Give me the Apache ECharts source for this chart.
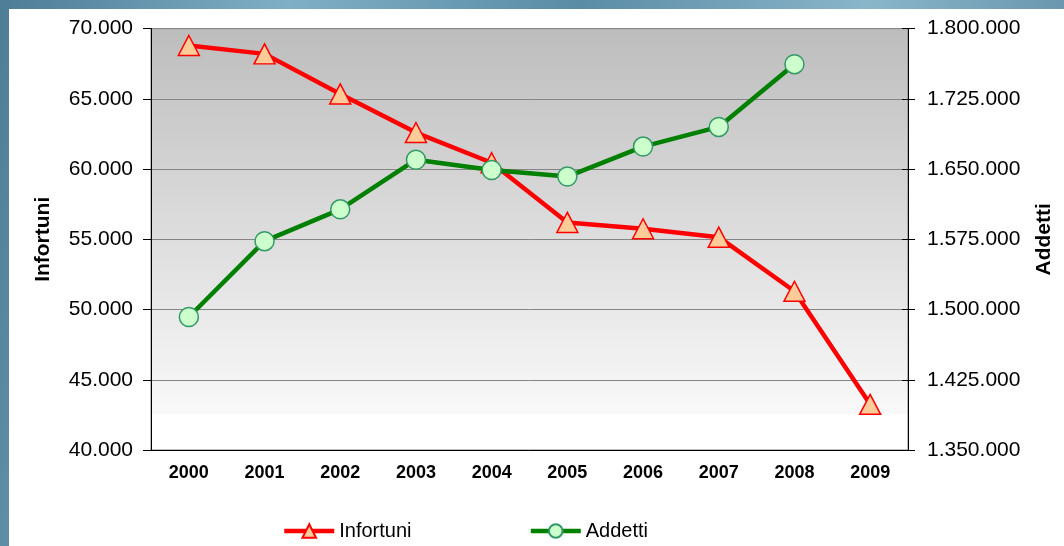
<!DOCTYPE html>
<html>
<head>
<meta charset="utf-8">
<script src="https://cdn.jsdelivr.net/npm/echarts@6/dist/echarts.min.js"></script>
<style>
  html, body { margin: 0; padding: 0; }
  body {
    width: 1064px; height: 546px; overflow: hidden; position: relative;
    background: linear-gradient(100deg, #4d7d97 0%, #7eafc6 25%, #5b8ca6 50%, #8ab6ca 75%, #5a88a1 100%);
  }
  #panel { position: absolute; left: 9px; top: 9px; right: 0; bottom: 0; background: #ffffff; }
  #chart { position: absolute; left: 0; top: 0; width: 1064px; height: 546px; }
</style>
</head>
<body>
<div id="panel"></div>
<div id="chart"></div>
<script>
/* global echarts */
const years = ['2000', '2001', '2002', '2003', '2004', '2005', '2006', '2007', '2008', '2009'];
const infortuni = [68800, 68200, 65350, 62600, 60450, 56200, 55750, 55150, 51300, 43250];
const addetti = [1492000, 1573000, 1607000, 1660000, 1649000, 1642000, 1674000, 1695000, 1762000];

const FONT = '"Liberation Sans", Arial, sans-serif';

function fmt_thousands(v) {
    return String(v).replace(/\B(?=(\d{3})+(?!\d))/g, '.');
}

const chart = echarts.init(document.getElementById('chart'));

const option = {
    animation: false,
    textStyle: { fontFamily: FONT },
    grid: {
        left: 151,
        top: 28.6,
        right: 156,
        bottom: 96,
        show: true,
        borderColor: '#7a7a7a',
        borderWidth: 1,
        backgroundColor: {
            type: 'linear', x: 0, y: 0, x2: 0, y2: 1,
            colorStops: [
                { offset: 0, color: '#bdbdbd' },
                { offset: 0.913, color: '#f9f9f9' },
                { offset: 0.913, color: '#ffffff' },
                { offset: 1, color: '#ffffff' }
            ]
        }
    },
    legend: {
        left: 277,
        top: 516,
        itemWidth: 50,
        itemHeight: 17,
        itemGap: 117,
        lineStyle: { width: 4.5 },
        textStyle: { fontSize: 20, color: '#000', fontFamily: FONT },
        data: ['Infortuni', 'Addetti']
    },
    xAxis: {
        type: 'category',
        data: years,
        boundaryGap: true,
        axisLine: { lineStyle: { color: '#000', width: 1 } },
        axisTick: { length: 5, lineStyle: { color: '#000' } },
        axisLabel: { margin: 14, fontSize: 18, fontWeight: 'bold', color: '#000', fontFamily: FONT },
        splitLine: { show: false }
    },
    yAxis: [
        {
            type: 'value',
            position: 'left',
            min: 40000,
            max: 70000,
            interval: 5000,
            name: 'Infortuni',
            nameLocation: 'middle',
            nameGap: 97,
            nameTextStyle: { fontSize: 21, fontWeight: 'bold', color: '#000', fontFamily: FONT },
            axisLine: { show: true, lineStyle: { color: '#000', width: 1 } },
            axisTick: { show: true, length: 8, lineStyle: { color: '#000' } },
            axisLabel: { margin: 18, fontSize: 21, color: '#000', fontFamily: FONT, formatter: fmt_thousands },
            splitLine: { show: true, lineStyle: { color: '#858585', width: 1 } }
        },
        {
            type: 'value',
            position: 'right',
            min: 1350000,
            max: 1800000,
            interval: 75000,
            name: 'Addetti',
            nameLocation: 'middle',
            nameGap: 126,
            nameTextStyle: { fontSize: 21, fontWeight: 'bold', color: '#000', fontFamily: FONT },
            axisLine: { show: true, lineStyle: { color: '#000', width: 1 } },
            axisTick: { show: true, length: 7, lineStyle: { color: '#000' } },
            axisLabel: { margin: 19, fontSize: 21, color: '#000', fontFamily: FONT, formatter: fmt_thousands },
            splitLine: { show: false }
        },
        {
            // inner half of the right-hand ticks (they cross the axis line)
            type: 'value',
            position: 'right',
            min: 1350000,
            max: 1800000,
            interval: 75000,
            axisLine: { show: false },
            axisTick: { show: true, inside: true, length: 6, lineStyle: { color: '#000' } },
            axisLabel: { show: false },
            splitLine: { show: false }
        }
    ],
    series: [
        {
            name: 'Infortuni',
            type: 'line',
            yAxisIndex: 0,
            data: infortuni,
            symbol: 'triangle',
            symbolSize: [21, 20],
            showAllSymbol: true,
            lineStyle: { color: '#ff0000', width: 4.5 },
            itemStyle: { color: '#ffcc99', borderColor: '#ff0000', borderWidth: 1.5 },
            emphasis: { disabled: true },
            z: 3
        },
        {
            name: 'Addetti',
            type: 'line',
            yAxisIndex: 1,
            data: addetti,
            symbol: 'circle',
            symbolSize: 19,
            showAllSymbol: true,
            lineStyle: { color: '#008000', width: 4.5 },
            itemStyle: { color: '#ccffcc', borderColor: '#339966', borderWidth: 1.5 },
            emphasis: { disabled: true },
            z: 4
        }
    ]
};

chart.setOption(option);
window.addEventListener('resize', () => chart.resize());
</script>
</body>
</html>
